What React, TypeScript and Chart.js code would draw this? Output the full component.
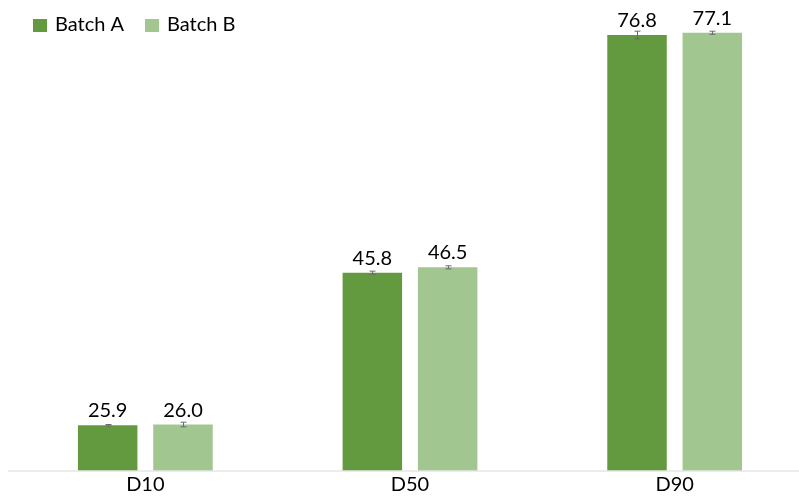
import React, { useEffect, useRef } from "react";
import { Chart, registerables } from "chart.js";

Chart.register(...registerables);

const categories = ["D10", "D50", "D90"];
const seriesNames = ["Batch A", "Batch B"];
const batchA = [25.9, 45.8, 76.8];
const batchB = [26.0, 46.5, 77.1];
const errA = [0.1, 0.2, 0.5];
const errB = [0.3, 0.2, 0.2];
const colorA = "rgb(99,154,63)";
const colorB = "rgb(161,198,143)";
const FONT = "Lato";

const overlayPlugin = {
  id: "overlay",
  afterDatasetsDraw(chart: any) {
    const ctx = chart.ctx;
    const yScale = chart.scales.y;
    const errs = [errA, errB];
    ctx.save();
    // baseline
    ctx.strokeStyle = "#d9d9d9";
    ctx.lineWidth = 1;
    ctx.beginPath();
    ctx.moveTo(8, chart.chartArea.bottom + 0.5);
    ctx.lineTo(chart.width, chart.chartArea.bottom + 0.5);
    ctx.stroke();
    chart.data.datasets.forEach((ds: any, di: number) => {
      const meta = chart.getDatasetMeta(di);
      meta.data.forEach((bar: any, i: number) => {
        const v = ds.data[i];
        const e = errs[di][i];
        const yTop = yScale.getPixelForValue(v + e);
        const yBot = yScale.getPixelForValue(v - e);
        const x = Math.round(bar.x) + 0.5;
        ctx.strokeStyle = "#6b6b6b";
        ctx.lineWidth = 1;
        ctx.beginPath();
        ctx.moveTo(x, yTop);
        ctx.lineTo(x, yBot);
        ctx.moveTo(x - 3, yTop);
        ctx.lineTo(x + 3, yTop);
        ctx.moveTo(x - 3, yBot);
        ctx.lineTo(x + 3, yBot);
        ctx.stroke();
        ctx.fillStyle = "#000";
        ctx.font = `20px ${FONT}`;
        ctx.textAlign = "center";
        ctx.textBaseline = "alphabetic";
        ctx.fillText(v.toFixed(1), bar.x, bar.y - 8);
      });
    });
    // legend
    const legendX = [33, 145];
    ctx.textAlign = "left";
    ctx.textBaseline = "middle";
    ctx.font = `20px ${FONT}`;
    seriesNames.forEach((name, i) => {
      ctx.fillStyle = i === 0 ? colorA : colorB;
      ctx.fillRect(legendX[i], 19, 14, 13);
      ctx.fillStyle = "#000";
      ctx.fillText(name, legendX[i] + 22, 25);
    });
    ctx.restore();
  },
};

export default function App() {
  const ref = useRef<HTMLCanvasElement>(null);
  useEffect(() => {
    if (!ref.current) return;
    const chart = new Chart(ref.current, {
      type: "bar",
      data: {
        labels: categories,
        datasets: [
          { label: seriesNames[0], data: batchA, backgroundColor: colorA },
          { label: seriesNames[1], data: batchB, backgroundColor: colorB },
        ],
      },
      options: {
        animation: false,
        responsive: true,
        maintainAspectRatio: false,
        layout: { padding: { left: 13, right: 0, top: 10.5, bottom: 0 } },
        datasets: {
          bar: { categoryPercentage: 0.569, barPercentage: 0.79 },
        },
        plugins: {
          legend: { display: false },
          tooltip: { enabled: false },
        },
        scales: {
          x: {
            grid: { display: false, drawTicks: false },
            border: { display: false },
            ticks: { color: "#000", font: { family: FONT, size: 20 }, padding: 2 },
            afterFit(scale: any) {
              scale.height = 26.5;
            },
          },
          y: {
            display: false,
            min: 20,
            max: 80,
          },
        },
      },
      plugins: [overlayPlugin],
    });
    return () => chart.destroy();
  }, []);
  return (
    <div style={{ position: "fixed", left: 0, top: 0, width: 799, height: 497, overflow: "hidden", background: "#fff" }}>
      <div style={{ position: "relative", width: 807, height: 497 }}>
        <canvas ref={ref} />
      </div>
    </div>
  );
}
